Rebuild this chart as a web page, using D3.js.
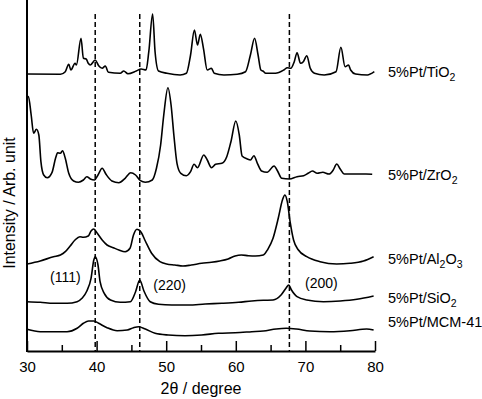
<!DOCTYPE html>
<html>
<head>
<meta charset="utf-8">
<script src="https://cdn.jsdelivr.net/npm/d3@7"></script>
<style>
  body { margin: 0; background: #fff; }
  svg { display: block; font-family: "Liberation Sans", Arial, sans-serif; }
</style>
</head>
<body>
<div id="chart"></div>
<script>
// XRD patterns, intensity in arbitrary units (offset stacked)
const tio2 = [
  [30, 277], [34.8, 276.7], [35.5, 279.3], [36.0, 286.7], [36.3, 281], [36.9, 287.7], [37.1, 286],
  [37.76, 312.7], [38.1, 292.7], [38.5, 292], [38.8, 287.7], [39.1, 286], [39.8, 291], [40.3, 285.3],
  [40.8, 282.7], [41.25, 285], [41.7, 278.7], [43.4, 277.7], [43.9, 280], [44.5, 277.3], [45.7, 280],
  [46.4, 282], [47.1, 281], [47.5, 299.3], [48.05, 337], [48.4, 299.3], [48.9, 280], [50.1, 277.7],
  [52.0, 276], [52.9, 277.7], [53.5, 296], [54.05, 321], [54.5, 306], [54.9, 316.7], [55.35, 302.7],
  [55.9, 281], [56.5, 282.7], [56.9, 277.7], [58.3, 276], [60.2, 276.7], [61.4, 279.3], [62.1, 296],
  [62.7, 312.7], [63.2, 296], [63.6, 281], [63.9, 280], [64.3, 277.7], [65.7, 277.7], [66.9, 281],
  [67.4, 283.3], [67.9, 282.7], [68.4, 289.3], [68.8, 298.3], [69.3, 287.7], [69.7, 289.3], [70.2, 295.3],
  [70.7, 282.7], [71.3, 277.7], [72.7, 276], [74.4, 279.3], [75.1, 303.7], [75.7, 284.3], [76.2, 286],
  [76.5, 281], [77.2, 277], [78.9, 276], [79.9, 279.3]
];
const zro2 = [
  [30, 254.3], [30.2, 254.5], [30.6, 236], [30.95, 217.7], [31.35, 221.7], [31.7, 216], [32.0, 189.3],
  [32.4, 176], [32.9, 173.3], [33.6, 178.7], [34.1, 192.7], [34.4, 198.3], [34.8, 197.7], [35.1, 200.3],
  [35.5, 192.7], [36.0, 177.7], [36.7, 170], [37.4, 168.7], [38.1, 171], [38.6, 174.3], [39.1, 172],
  [39.7, 171], [40.2, 176], [40.8, 182.7], [41.35, 176.7], [42.2, 170], [43.2, 168.3], [44.1, 172.7],
  [44.9, 178.3], [45.6, 176], [46.3, 170.3], [47.0, 168.7], [48.0, 171], [48.6, 182.7], [49.2, 206],
  [49.65, 236], [50.25, 263.3], [50.7, 246], [51.1, 216], [51.55, 187.7], [52.1, 177.7], [52.9, 175.3],
  [53.5, 179.3], [54.0, 186.7], [54.5, 183.3], [55.4, 196], [55.9, 191], [56.5, 183.3], [57.1, 186.7],
  [58.0, 187.7], [58.7, 194.3], [59.3, 209.3], [60.0, 230], [60.5, 216], [60.9, 195], [61.65, 192],
  [62.1, 191], [62.6, 195.3], [63.1, 187.7], [63.7, 180], [64.5, 178.7], [65.5, 185], [66.0, 180],
  [66.6, 172.7], [67.7, 172], [68.8, 174.3], [69.75, 175.3], [70.4, 177.7], [71.0, 180], [71.7, 177.7],
  [72.5, 178.7], [73.4, 177], [74.0, 181], [74.5, 187], [75.0, 182], [75.6, 177], [76.8, 177],
  [78.7, 177], [79.6, 176.7]
];
const al2o3 = [
  [30, 87], [31.9, 90], [33.8, 94.3], [34.8, 96], [35.5, 99.3], [36.2, 105], [36.9, 111], [37.6, 114.3],
  [38.1, 113.7], [38.8, 115], [39.2, 120], [39.6, 122], [40.1, 117.7], [40.8, 111], [41.5, 106],
  [42.4, 103.3], [43.2, 101], [44.1, 99.3], [44.8, 102.7], [45.3, 116], [45.8, 121.7], [46.4, 118.7],
  [47.0, 110], [47.9, 97.7], [49.1, 89.3], [50.05, 87], [51.25, 86], [52.4, 85], [53.6, 86], [55.1, 87.7],
  [56.5, 88.7], [57.7, 90], [58.9, 92], [59.9, 95], [60.8, 96], [61.8, 95.3], [62.8, 95], [63.95, 96],
  [64.6, 101.7], [65.35, 112.7], [66.1, 132.7], [66.7, 151], [67.05, 156], [67.4, 149.3], [67.8, 129.3],
  [68.3, 111], [69.0, 101], [70.2, 94.3], [72.1, 89.3], [74.5, 87], [76.4, 87.7], [78.35, 90], [79.8, 94.3]
];
const sio2 = [
  [30, 49.3], [31.9, 48.7], [33.8, 47.7], [35.75, 47.7], [37.2, 49.3], [37.9, 52.7], [38.6, 60],
  [39.2, 72.7], [39.6, 91], [39.8, 94.3], [40.2, 86], [40.5, 69.3], [41.1, 57.7], [42.0, 51], [43.4, 48.7],
  [44.85, 49.3], [45.6, 59.3], [46.2, 71], [46.8, 60], [47.7, 49.3], [48.9, 46.7], [50.8, 46], [53.2, 46],
  [55.6, 47], [58.0, 47.7], [60.4, 48.7], [62.3, 50], [63.95, 50.7], [65.35, 51], [66.5, 56], [67.2, 62.7],
  [67.6, 66], [68.0, 61], [68.8, 54.3], [70.2, 51], [72.6, 49.3], [75.0, 50], [77.4, 51.7], [79.8, 55]
];
const mcm41 = [
  [30, 21.7], [31.9, 19.3], [33.8, 19.3], [35.75, 19.3], [37.2, 22.7], [38.1, 27.7], [38.85, 30], [39.6, 30],
  [40.3, 27.7], [41.5, 23.3], [42.95, 20.3], [44.4, 21], [45.3, 23.3], [46.05, 24.3], [47.0, 22],
  [48.4, 17.7], [50.3, 16], [52.7, 15.3], [55.1, 16], [57.5, 17.7], [59.9, 18.3], [62.3, 19.3],
  [63.95, 20], [65.8, 22], [67.25, 22.7], [68.7, 22], [70.65, 20], [73.5, 19.3], [76.4, 20.3],
  [78.8, 22], [79.8, 21]
];
const series = [tio2, zro2, al2o3, sio2, mcm41];
const seriesNames = ["5%Pt/TiO_2", "5%Pt/ZrO_2", "5%Pt/Al_2O_3", "5%Pt/SiO_2", "5%Pt/MCM-41"];
const refLines = [39.8, 46.2, 67.7];          // Pt reflections, 2θ
const refLabels = ["(111)", "(220)", "(200)"];
const xTicks = [30, 40, 50, 60, 70, 80];
const xMinor = [35, 45, 55, 65, 75];

const width = 482, height = 399;
const svg = d3.select("#chart").append("svg")
  .attr("width", width)
  .attr("height", height);

const x = d3.scaleLinear().domain([30, 80]).range([27, 375]);
const y = d3.scaleLinear().domain([0, 350]).range([351, 1]);

// dashed reference lines
svg.selectAll("line.ref")
  .data(refLines)
  .enter()
  .append("line")
  .attr("class", "ref")
  .attr("x1", d => x(d)).attr("x2", d => x(d))
  .attr("y1", y(337)).attr("y2", y(0))
  .attr("stroke", "#000")
  .attr("stroke-width", 1.5)
  .attr("stroke-dasharray", "5,3");

// traces
const line = d3.line()
  .x(d => x(d[0]))
  .y(d => y(d[1]))
  .curve(d3.curveMonotoneX);

svg.selectAll("path.trace")
  .data(series)
  .enter()
  .append("path")
  .attr("class", "trace")
  .attr("d", line)
  .attr("fill", "none")
  .attr("stroke", "#000")
  .attr("stroke-width", 1.6)
  .attr("stroke-linejoin", "round");

// x axis with inward ticks
const xAxis = svg.append("g")
  .attr("transform", `translate(0,${y(0)})`)
  .call(d3.axisBottom(x).tickValues(xTicks).tickSizeInner(-10).tickSizeOuter(0).tickPadding(10.5));
xAxis.select(".domain").attr("stroke-width", 2);
xAxis.selectAll(".tick line").attr("stroke-width", 1.5);
xAxis.selectAll("text").attr("font-size", 15).attr("font-family", "Liberation Sans, Arial, sans-serif");

const xAxisMinor = svg.append("g")
  .attr("transform", `translate(0,${y(0)})`)
  .call(d3.axisBottom(x).tickValues(xMinor).tickSizeInner(-6).tickSizeOuter(0).tickFormat(""));
xAxisMinor.select(".domain").remove();
xAxisMinor.selectAll(".tick line").attr("stroke-width", 1.5);

// left axis: a plain line, no ticks
svg.append("line")
  .attr("x1", x(30)).attr("x2", x(30))
  .attr("y1", 0).attr("y2", y(0) + 1)
  .attr("stroke", "#000")
  .attr("stroke-width", 2);

// axis titles
svg.append("text")
  .attr("x", (x(30) + x(80)) / 2)
  .attr("y", 394)
  .attr("text-anchor", "middle")
  .attr("font-size", 16)
  .text("2θ / degree");

svg.append("text")
  .attr("transform", `translate(15,${203}) rotate(-90)`)
  .attr("text-anchor", "middle")
  .attr("font-size", 16)
  .text("Intensity / Arb. unit");

// series labels, with subscripts marked by "_"
const labelLevels = [279, 176, 92, 53, 29];
seriesNames.forEach((name, i) => {
  const t = svg.append("text")
    .attr("x", x(80) + 13)
    .attr("y", y(labelLevels[i]) + 5)
    .attr("font-size", 14.5);
  let shifted = false;
  name.split(/(_\d)/).filter(s => s.length).forEach(part => {
    if (part[0] === "_") {
      t.append("tspan").attr("font-size", 10.5).attr("dy", 4).text(part.slice(1));
      shifted = true;
    } else {
      const s = t.append("tspan").text(part);
      if (shifted) { s.attr("dy", -4); shifted = false; }
    }
  });
});

// reflection labels
const refLabelPos = [[35.5, 69], [50.5, 61], [72.3, 63]];
svg.selectAll("text.hkl")
  .data(refLabels)
  .enter()
  .append("text")
  .attr("class", "hkl")
  .attr("x", (d, i) => x(refLabelPos[i][0]))
  .attr("y", (d, i) => y(refLabelPos[i][1]))
  .attr("text-anchor", "middle")
  .attr("font-size", 14)
  .text(d => d);
</script>
</body>
</html>
